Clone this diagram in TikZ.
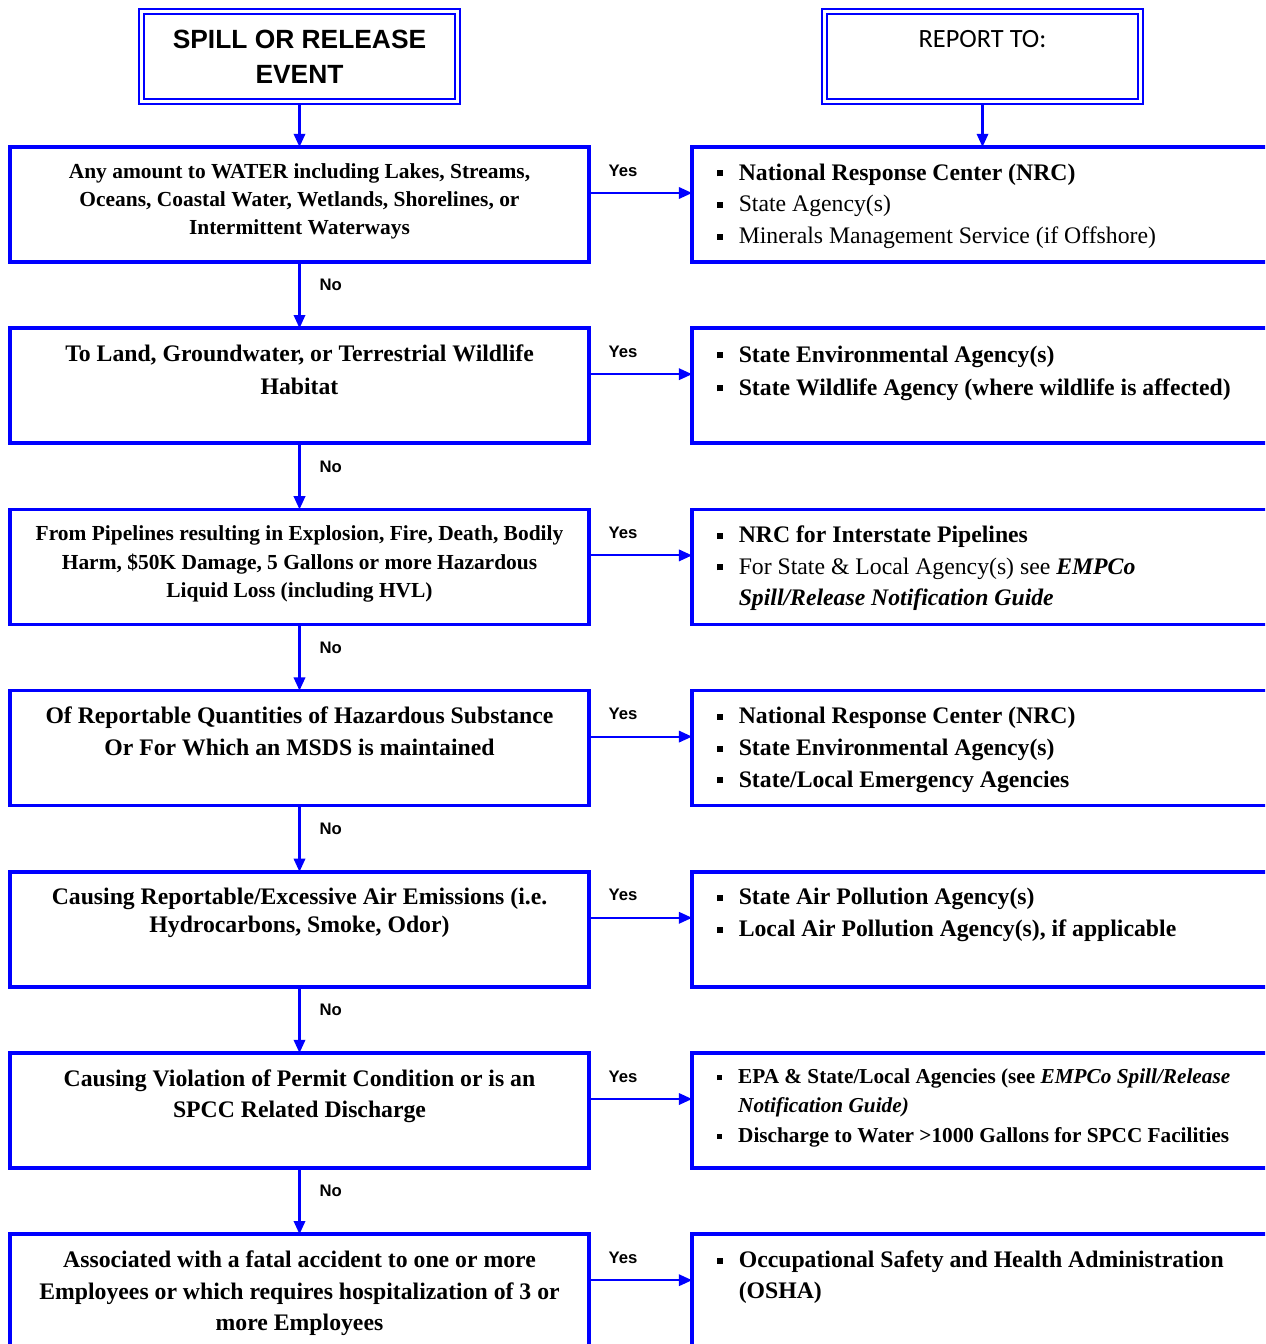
\documentclass[tikz,border=0pt]{standalone}
\usepackage{fontspec}
\setmainfont{Liberation Serif}
\newfontfamily\headfont{Liberation Sans}
\newfontfamily\reportfont{Carlito}
\usetikzlibrary{positioning,arrows.meta}
\newcommand{\sqb}{\rule[0.16em]{0.25em}{0.25em}}

\begin{document}
\begin{tikzpicture}[x=0.02cm, y=-0.02cm,
    every node/.style={inner sep=0pt, outer sep=0pt},
    headbox/.style={draw=blue, line width=1.1pt, double=white, double distance=1.7pt,
      outer sep=2pt, minimum width=6.32cm, minimum height=1.8cm, align=center,
      font=\fontsize{15}{19.8}\selectfont},
    qbox/.style={draw=blue, line width=2pt, minimum width=11.58cm, minimum height=2.3cm},
    qtext/.style={align=center, font=\bfseries\fontsize{13.5}{18}\selectfont},
    rtext/.style={font=\fontsize{13.5}{18}\selectfont},
    arr/.style={draw=blue, line width=1.2pt, -{Triangle[length=7.5pt,width=6.5pt]}},
    yeslabel/.style={font=\headfont\bfseries\fontsize{9.5}{11}\selectfont},
  ]
  \useasboundingbox (0,0) rectangle (1265,1344);
  \clip (0,0) rectangle (1265,1344);

  % headings
  \node[headbox, font=\headfont\bfseries\fontsize{15}{19.8}\selectfont] (ev) at (299.5,56.5)
    {SPILL OR RELEASE\\EVENT};
  \node[headbox, font=\reportfont\fontsize{15}{19.8}\selectfont] (rep) at (982.5,56.5)
    {REPORT TO:\\~};

  % questions
  \node[qbox] (q1) at (299.5,204.5) {};
  \node[qbox] (q2) at (299.5,385.7) {};
  \node[qbox] (q3) at (299.5,566.9) {};
  \node[qbox] (q4) at (299.5,748.1) {};
  \node[qbox] (q5) at (299.5,929.3) {};
  \node[qbox] (q6) at (299.5,1110.5) {};
  \node[qbox] (q7) at (299.5,1291.7) {};

  \node[qtext, font=\bfseries\fontsize{12.2}{15.9}\selectfont, below=0.33cm of q1.north] (q1t)
    {Any amount to WATER including Lakes, Streams,\\Oceans, Coastal Water, Wetlands, Shorelines, or\\Intermittent Waterways};
  \node[qtext, font=\bfseries\fontsize{13.5}{18.7}\selectfont, below=0.33cm of q2.north] (q2t)
    {To Land, Groundwater, or Terrestrial Wildlife\\Habitat};
  \node[qtext, font=\bfseries\fontsize{12.2}{16.1}\selectfont, below=0.33cm of q3.north] (q3t)
    {From Pipelines resulting in Explosion, Fire, Death, Bodily\\Harm, \$50K Damage, 5 Gallons or more Hazardous\\Liquid Loss (including HVL)};
  \node[qtext, below=0.33cm of q4.north] (q4t)
    {Of Reportable Quantities of Hazardous Substance\\Or For Which an MSDS is maintained};
  \node[qtext, font=\bfseries\fontsize{13.5}{16}\selectfont, below=0.33cm of q5.north] (q5t)
    {Causing Reportable/Excessive Air Emissions (i.e.\\Hydrocarbons, Smoke, Odor)};
  \node[qtext, below=0.33cm of q6.north] (q6t)
    {Causing Violation of Permit Condition or is an\\SPCC Related Discharge};
  \node[qtext, below=0.33cm of q7.north] (q7t)
    {Associated with a fatal accident to one or more\\Employees or which requires hospitalization of 3 or\\more Employees};

  % report to
  \node[qbox] (r1) at (981.5,204.5) {};
  \node[qbox] (r2) at (981.5,385.7) {};
  \node[qbox] (r3) at (981.5,566.9) {};
  \node[qbox] (r4) at (981.5,748.1) {};
  \node[qbox] (r5) at (981.5,929.3) {};
  \node[qbox] (r6) at (981.5,1110.5) {};
  \node[qbox] (r7) at (981.5,1291.7) {};

  \node[rtext, below right=0.22cm and 0.5cm of r1.north west] (r1t)
    {\begin{tabular}{@{}l@{\hspace{9pt}}l@{}}
      \sqb & \textbf{National Response Center (NRC)}\\
      \sqb & State Agency(s)\\
      \sqb & Minerals Management Service (if Offshore)
    \end{tabular}};
  \node[rtext, font=\fontsize{13.5}{18.7}\selectfont, below right=0.22cm and 0.5cm of r2.north west] (r2t)
    {\begin{tabular}{@{}l@{\hspace{9pt}}l@{}}
      \sqb & \textbf{State Environmental Agency(s)}\\
      \sqb & \textbf{State Wildlife Agency (where wildlife is affected)}
    \end{tabular}};
  \node[rtext, below right=0.22cm and 0.5cm of r3.north west] (r3t)
    {\begin{tabular}{@{}l@{\hspace{9pt}}l@{}}
      \sqb & \textbf{NRC for Interstate Pipelines}\\
      \sqb & For State \& Local Agency(s) see \textbf{\textit{EMPCo}}\\
           & \textbf{\textit{Spill/Release Notification Guide}}
    \end{tabular}};
  \node[rtext, below right=0.22cm and 0.5cm of r4.north west] (r4t)
    {\begin{tabular}{@{}l@{\hspace{9pt}}l@{}}
      \sqb & \textbf{National Response Center (NRC)}\\
      \sqb & \textbf{State Environmental Agency(s)}\\
      \sqb & \textbf{State/Local Emergency Agencies}
    \end{tabular}};
  \node[rtext, below right=0.22cm and 0.5cm of r5.north west] (r5t)
    {\begin{tabular}{@{}l@{\hspace{9pt}}l@{}}
      \sqb & \textbf{State Air Pollution Agency(s)}\\
      \sqb & \textbf{Local Air Pollution Agency(s), if applicable}
    \end{tabular}};
  \node[rtext, font=\bfseries\fontsize{12.1}{16.7}\selectfont, below right=0.2cm and 0.5cm of r6.north west] (r6t)
    {\begin{tabular}{@{}l@{\hspace{9pt}}l@{}}
      \sqb & EPA \& State/Local Agencies (see \textit{EMPCo Spill/Release}\\
           & \textit{Notification Guide)}\\
      \sqb & Discharge to Water >1000 Gallons for SPCC Facilities
    \end{tabular}};
  \node[rtext, below right=0.22cm and 0.5cm of r7.north west] (r7t)
    {\begin{tabular}{@{}l@{\hspace{9pt}}l@{}}
      \sqb & \textbf{Occupational Safety and Health Administration}\\
           & \textbf{(OSHA)}
    \end{tabular}};

  % connectors
  \draw[arr] (ev) -- (q1);
  \draw[arr] (rep.south) -- (rep.south |- r1.north);

  \draw[arr] (q1) -- (q2) node[yeslabel, pos=0.35, right=0.4cm] (n1) {No};
  \draw[arr] (q2) -- (q3) node[yeslabel, pos=0.35, right=0.4cm] (n2) {No};
  \draw[arr] (q3) -- (q4) node[yeslabel, pos=0.35, right=0.4cm] (n3) {No};
  \draw[arr] (q4) -- (q5) node[yeslabel, pos=0.35, right=0.4cm] (n4) {No};
  \draw[arr] (q5) -- (q6) node[yeslabel, pos=0.35, right=0.4cm] (n5) {No};
  \draw[arr] (q6) -- (q7) node[yeslabel, pos=0.35, right=0.4cm] (n6) {No};

  \draw[arr] ([yshift=0.23cm]q1.east) -- ([yshift=0.23cm]r1.west) node[yeslabel, pos=0.33, yshift=0.34cm, anchor=base] (y1) {Yes};
  \draw[arr] ([yshift=0.23cm]q2.east) -- ([yshift=0.23cm]r2.west) node[yeslabel, pos=0.33, yshift=0.34cm, anchor=base] (y2) {Yes};
  \draw[arr] ([yshift=0.23cm]q3.east) -- ([yshift=0.23cm]r3.west) node[yeslabel, pos=0.33, yshift=0.34cm, anchor=base] (y3) {Yes};
  \draw[arr] ([yshift=0.23cm]q4.east) -- ([yshift=0.23cm]r4.west) node[yeslabel, pos=0.33, yshift=0.34cm, anchor=base] (y4) {Yes};
  \draw[arr] ([yshift=0.23cm]q5.east) -- ([yshift=0.23cm]r5.west) node[yeslabel, pos=0.33, yshift=0.34cm, anchor=base] (y5) {Yes};
  \draw[arr] ([yshift=0.23cm]q6.east) -- ([yshift=0.23cm]r6.west) node[yeslabel, pos=0.33, yshift=0.34cm, anchor=base] (y6) {Yes};
  \draw[arr] ([yshift=0.23cm]q7.east) -- ([yshift=0.23cm]r7.west) node[yeslabel, pos=0.33, yshift=0.34cm, anchor=base] (y7) {Yes};
\end{tikzpicture}
\end{document}
